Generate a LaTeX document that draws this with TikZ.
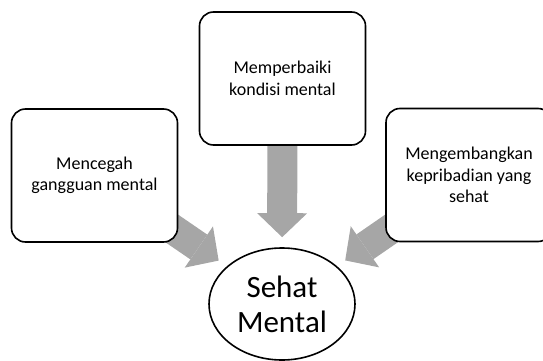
\documentclass[tikz,border=0pt]{standalone}
\usepackage{fontspec}
\setmainfont{Carlito}
\usetikzlibrary{positioning,shapes.geometric,arrows.meta,backgrounds}
\definecolor{arrowgray}{RGB}{166,166,166}

\begin{document}
\begin{tikzpicture}[x=1pt, y=-1pt, >={Triangle[width=50pt,length=24pt,line width=0pt]}, font=\fontsize{18}{21.5}\selectfont]
        \tikzstyle{block} = [rectangle, draw, line width=1.6pt, rounded corners=14pt, fill=white, align=center, minimum width=166pt, minimum height=133pt]
        \tikzstyle{goal} = [ellipse, draw, line width=1.6pt, align=center, minimum width=146pt, minimum height=112pt, font=\fontsize{31}{35}\selectfont]
        \tikzstyle{flow} = [->, line width=30pt, draw=arrowgray, fill=arrowgray, shorten >=10pt]
        \useasboundingbox (0,0) rectangle (543,361);
        \clip (0,0) rectangle (543,361);
        \node[block] (cegah) at (94.5,175.5) {Mencegah\\gangguan mental};
        \node[block] (baiki) at (282.5,78.5) {Memperbaiki\\kondisi mental};
        \node[block] (kembang) at (469,175) {Mengembangkan\\kepribadian yang\\sehat};
        \node[goal] (sehat) at (282,304) {Sehat\\Mental};
        \begin{scope}[on background layer]
            \draw[flow] (cegah.center) -- (sehat);
            \draw[flow] (baiki.center) -- (sehat);
            \draw[flow] (kembang.center) -- (sehat);
        \end{scope}
\end{tikzpicture}
\end{document}
